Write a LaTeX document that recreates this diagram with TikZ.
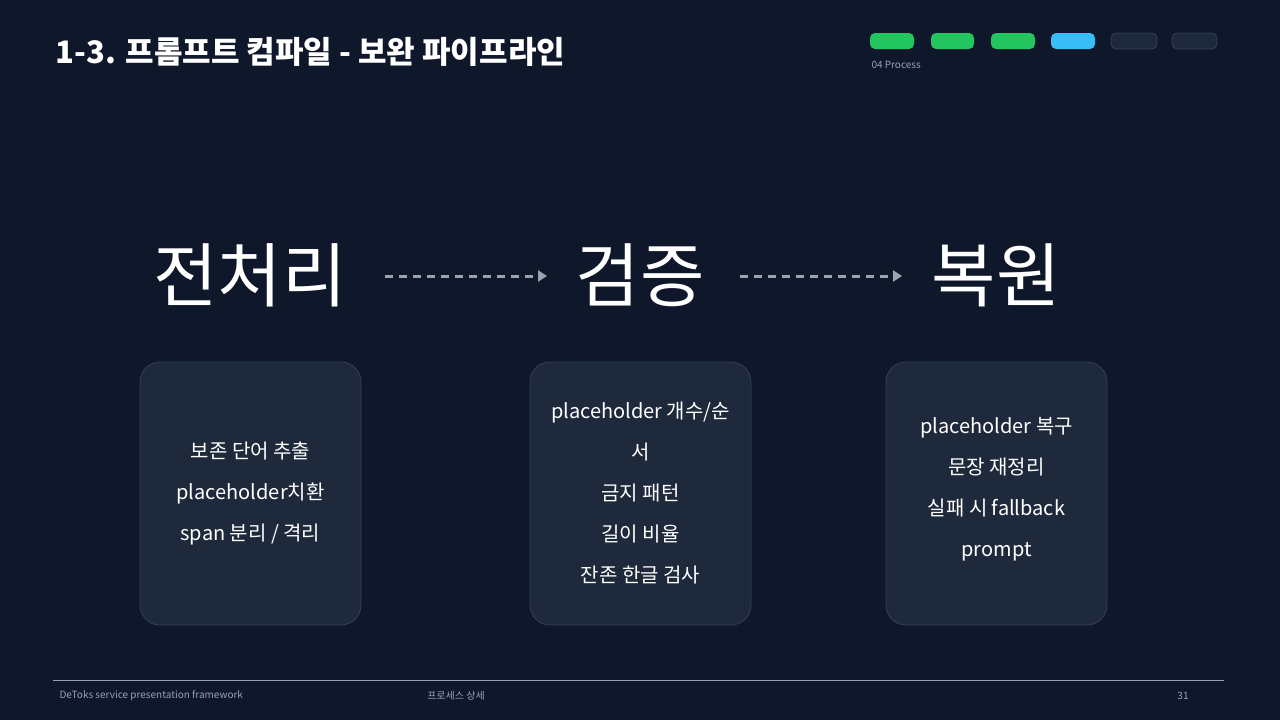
\documentclass[tikz,border=0pt]{standalone}
\usepackage{fontspec}
\setmainfont{Noto Sans CJK KR}
\definecolor{bg}{HTML}{0F172A}
\definecolor{card}{HTML}{1E293B}
\definecolor{cardline}{HTML}{334155}
\definecolor{gr}{HTML}{22C55E}
\definecolor{bl}{HTML}{38BDF8}
\definecolor{dim}{HTML}{94A3B8}
\definecolor{arr}{HTML}{9CA3AF}
\usetikzlibrary{arrows.meta}
\tikzset{
 card/.style={draw=cardline,fill=card,rounded corners=20pt,line width=0.8pt},
 bar/.style={rounded corners=5pt},
 head/.style={text=white,font=\fontsize{70}{76}\selectfont},
 body/.style={text=white,align=center,font=\fontsize{20}{41}\selectfont},
 flow/.style={draw=arr,line width=3pt,dash pattern=on 8pt off 6pt,-{Triangle[length=9pt,width=11pt]}},
}
\begin{document}
\begin{tikzpicture}[x=1pt,y=-1pt]
\fill[bg] (0,0) rectangle (1280,720);
\useasboundingbox (0,0) rectangle (1280,720);
\node[anchor=west,text=white,font=\bfseries\fontsize{31}{34}\selectfont] (title) at (52,52) {1-3. 프롬프트 컴파일 - 보완 파이프라인};
\fill[gr,bar] (870,33) rectangle (914,49);
\fill[gr,bar] (931,33) rectangle (974,49);
\fill[gr,bar] (991,33) rectangle (1035,49);
\fill[bl,bar] (1051,33) rectangle (1095,49);
\fill[card,bar] (1111,33) rectangle (1157,49);
\fill[card,bar] (1172,33) rectangle (1217,49);
\node[anchor=west,text=dim,font=\fontsize{10}{11}\selectfont] (sec) at (868,65) {04 Process};
\node[head] (h1) at (250,275) {전처리};
\node[head] (h2) at (640,275) {검증};
\node[head] (h3) at (996,275) {복원};
\coordinate (a1s) at (385,276); \coordinate (a1e) at (547,276);
\coordinate (a2s) at (740,276); \coordinate (a2e) at (902,276);
\draw[flow] (a1s) -- (a1e);
\draw[flow] (a2s) -- (a2e);
\node[card,minimum width=221pt,minimum height=263pt] (c1) at (250.5,493.5) {};
\node[card,minimum width=221pt,minimum height=263pt] (c2) at (640.5,493.5) {};
\node[card,minimum width=221pt,minimum height=263pt] (c3) at (996.5,493.5) {};
\node[body] (t1) at (c1) {보존 단어 추출\\placeholder치환\\span 분리 / 격리};
\node[body] (t2) at (c2) {placeholder 개수/순\\서\\금지 패턴\\길이 비율\\잔존 한글 검사};
\node[body] (t3) at ([yshift=4pt]c3.center) {placeholder 복구\\문장 재정리\\실패 시 fallback\\prompt};
\draw[dim,line width=1pt] (53,680) -- (1224,680);
\node[anchor=west,text=dim,font=\fontsize{10}{11}\selectfont] (f1) at (56,696) {DeToks service presentation framework};
\node[text=dim,font=\fontsize{10}{11}\selectfont] (f2) at (456,696) {프로세스 상세};
\node[text=dim,font=\fontsize{10}{11}\selectfont] (f3) at (1183,696) {31};
\end{tikzpicture}
\end{document}
